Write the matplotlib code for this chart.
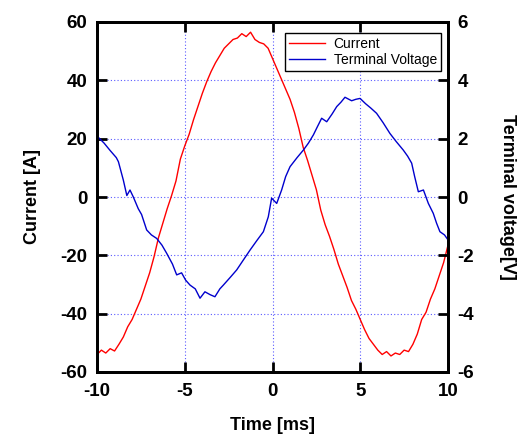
import numpy as np
import matplotlib
matplotlib.use("Agg")
import matplotlib.pyplot as plt

# Current waveform [A] vs time [ms]
current_t = [-10.0, -9.75, -9.5, -9.25, -9.0, -8.75, -8.5, -8.25, -8.0, -7.75,
             -7.5, -7.25, -7.0, -6.75, -6.5, -6.25, -6.0, -5.75, -5.5, -5.25,
             -5.0, -4.75, -4.5, -4.25, -4.0, -3.75, -3.5, -3.25, -3.0, -2.75,
             -2.5, -2.25, -2.0, -1.75, -1.5, -1.25, -1.0, -0.75, -0.5, -0.25,
             0.0, 0.25, 0.5, 0.75, 1.0, 1.25, 1.5, 1.75, 2.0, 2.25,
             2.5, 2.75, 3.0, 3.25, 3.5, 3.75, 4.0, 4.25, 4.5, 4.75,
             5.0, 5.25, 5.5, 5.75, 6.0, 6.25, 6.5, 6.75, 7.0, 7.25,
             7.5, 7.75, 8.0, 8.25, 8.5, 8.75, 9.0, 9.25, 9.5, 9.75, 10.0]
current_a = [-54.0, -52.5, -53.5, -52.0, -52.8, -50.5, -48.0, -44.5, -42.0, -38.5,
             -35.0, -30.5, -26.0, -20.5, -14.0, -9.0, -4.0, 0.5, 5.5, 13.0,
             17.5, 21.5, 26.5, 31.0, 35.5, 39.5, 43.0, 46.0, 48.5, 51.0,
             52.5, 54.0, 54.5, 56.0, 55.0, 56.5, 54.0, 53.0, 52.5, 51.0,
             47.5, 44.0, 40.5, 37.0, 33.5, 29.0, 23.5, 17.0, 12.5, 7.5,
             2.5, -4.5, -9.5, -13.5, -18.0, -23.0, -27.0, -31.0, -35.5, -38.5,
             -42.0, -45.5, -48.5, -50.5, -52.5, -54.0, -53.0, -54.5, -53.5, -54.0,
             -52.5, -53.0, -50.5, -47.0, -42.0, -39.5, -35.0, -31.5, -27.0, -22.5, -16.5]

# Terminal voltage [V] vs time [ms]
voltage_t = [-10.0, -9.6, -9.26, -8.9, -8.78, -8.5, -8.3, -8.12, -7.93, -7.65,
             -7.46, -7.17, -6.9, -6.6, -6.3, -6.03, -5.7, -5.46, -5.18, -4.95,
             -4.7, -4.4, -4.13, -3.85, -3.55, -3.28, -3.0, -2.8, -2.4, -2.04,
             -1.65, -1.28, -0.9, -0.52, -0.24, -0.05, 0.24, 0.52, 0.75, 1.0,
             1.4, 1.76, 2.05, 2.33, 2.55, 2.8, 3.09, 3.4, 3.66, 3.9,
             4.13, 4.35, 4.51, 4.75, 4.99, 5.3, 5.6, 5.93, 6.3, 6.69,
             7.05, 7.45, 7.7, 7.93, 8.1, 8.31, 8.6, 8.88, 9.16, 9.35,
             9.54, 9.8, 10.0]
voltage_v = [2.09, 1.85, 1.6, 1.35, 1.21, 0.58, 0.05, 0.24, 0.0, -0.4,
             -0.6, -1.13, -1.3, -1.42, -1.65, -1.93, -2.3, -2.67, -2.6, -2.85,
             -3.02, -3.15, -3.47, -3.25, -3.35, -3.42, -3.15, -3.02, -2.75, -2.5,
             -2.15, -1.82, -1.5, -1.19, -0.68, -0.04, -0.22, 0.24, 0.7, 1.04,
             1.35, 1.61, 1.85, 2.13, 2.4, 2.7, 2.58, 2.85, 3.1, 3.25,
             3.42, 3.35, 3.3, 3.35, 3.38, 3.2, 3.05, 2.87, 2.55, 2.18,
             1.9, 1.61, 1.4, 1.16, 0.7, 0.18, 0.24, -0.22, -0.56, -0.9,
             -1.19, -1.3, -1.47]

plt.rcParams['font.family'] = ['Liberation Sans', 'DejaVu Sans']
plt.rcParams['axes.unicode_minus'] = False


def style_axis(ax):
    for s in ax.spines.values():
        s.set_linewidth(2.0)
    ax.tick_params(direction='in', length=7, width=2.0, labelsize=13.5)
    ax.tick_params(axis='x', pad=8)
    ax.tick_params(axis='y', pad=7)
    for lab in ax.get_xticklabels() + ax.get_yticklabels():
        lab.set_fontweight('bold')


def main():
    fig = plt.figure(figsize=(5.23, 4.38), dpi=100)
    ax = fig.add_axes([97 / 523, 1 - 372 / 438, 351 / 523, 350 / 438])
    ax2 = ax.twinx()

    l1, = ax.plot(current_t, current_a, color='red', lw=1.0, label='Current')
    l2, = ax2.plot(voltage_t, voltage_v, color='#0000cd', lw=1.0, label='Terminal Voltage')

    ax.set_xlim(-10, 10)
    ax.set_ylim(-60, 60)
    ax2.set_ylim(-6, 6)
    ax.set_xticks(np.arange(-10, 11, 5))
    ax.set_yticks(np.arange(-60, 61, 20))
    ax2.set_yticks(np.arange(-6, 7, 2))
    ax.grid(True, color='#5a5aff', linestyle=(0, (1, 2)), linewidth=0.8)
    ax.tick_params(top=True)

    style_axis(ax)
    style_axis(ax2)

    ax.set_xlabel('Time [ms]', fontsize=13, fontweight='bold', labelpad=12)
    ax.set_ylabel('Current [A]', fontsize=13, fontweight='bold', labelpad=14)
    ax2.set_ylabel('Terminal voltage[V]', fontsize=13, fontweight='bold',
                   rotation=270, labelpad=30)

    leg = fig.legend(handles=[l1, l2], loc='upper right',
                     bbox_to_anchor=(441 / 523, 1 - 33 / 438),
                     fancybox=False, edgecolor='black', fontsize=10,
                     handlelength=2.6, borderpad=0.3, labelspacing=0.1,
                     handletextpad=0.6, borderaxespad=0)
    leg.get_frame().set_linewidth(1.0)
    leg.get_frame().set_alpha(1)

    fig.savefig('out.png', dpi=100)


main()
